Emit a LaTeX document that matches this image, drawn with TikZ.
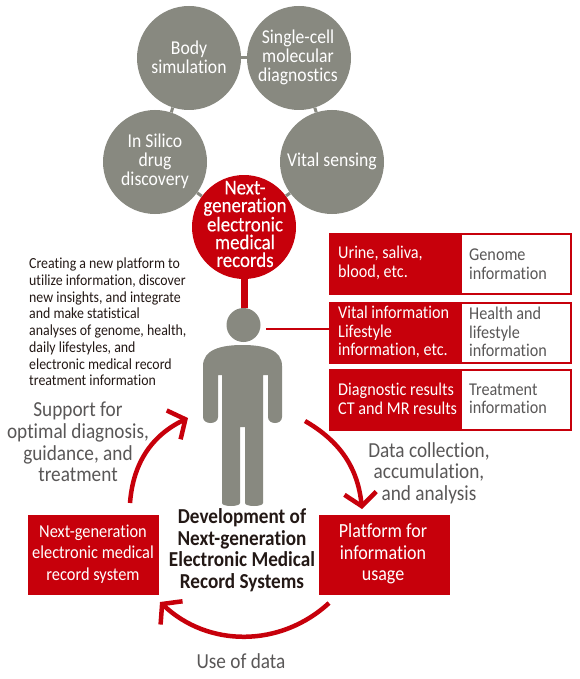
\documentclass[tikz,border=0pt]{standalone}
\usepackage{fontspec}
\setmainfont[FakeStretch=0.9, Ligatures=NoCommon]{Carlito}
\usetikzlibrary{arrows.meta}
\definecolor{fjred}{HTML}{C7000B}
\definecolor{fjgray}{HTML}{888980}
\definecolor{fjtext}{HTML}{595757}
\definecolor{fjdark}{HTML}{231815}
\tikzset{
  topic/.style={circle, fill=fjgray, minimum size=104pt, inner sep=0pt},
  core/.style={circle, fill=fjred, minimum size=104pt, inner sep=0pt},
  topiclabel/.style={text=white, align=center, font=\fontsize{19.6}{19}\selectfont},
  corelabel/.style={text=white, align=center, font=\addfontfeature{FakeBold=0.25}\fontsize{21}{17.8}\selectfont},
  infoframe/.style={fill=fjred, minimum width=243pt, minimum height=62pt, inner sep=0pt},
  infowhite/.style={fill=white, minimum width=108pt, minimum height=58pt, inner sep=0pt},
  infosrc/.style={text=white, anchor=west, align=left, inner sep=0pt, font=\fontsize{18}{18.5}\selectfont},
  infokind/.style={text=fjtext, anchor=west, align=left, inner sep=0pt, font=\fontsize{18}{18.5}\selectfont},
  stagebox/.style={fill=fjred, minimum width=131pt, minimum height=80pt, inner sep=0pt},
  stagelabel/.style={text=white, align=center, font=\fontsize{18.2}{21.7}\selectfont},
  cyclelabel/.style={text=fjtext, align=center, font=\fontsize{21.4}{21.6}\selectfont},
  cycle/.style={draw=fjred, line width=4.5pt, -{Straight Barb[length=13pt, width=32pt, line width=4.5pt]}},
  link/.style={fjgray, line width=3pt},
}
\begin{document}
\begin{tikzpicture}[x=1pt, y=-1pt]
\useasboundingbox (0,0) rectangle (580,679);

% Circles
\node[topic] (body) at (189,58) {};
\node[topic] (cell) at (299,58) {};
\node[topic] (silico) at (155,162) {};
\node[topic] (vital) at (332,162) {};
\node[core] (records) at (244,227) {};

% Links between circles
\draw[link] (body) -- (cell);
\draw[link] (body) -- (silico);
\draw[link] (cell) -- (vital);
\draw[link] (silico) -- (records);
\draw[link] (vital) -- (records);

% Circle labels
\node[topiclabel] (bodytext) at (189,57) {Body\\simulation};
\node[topiclabel] (celltext) at (298,57) {Single-cell\\molecular\\diagnostics};
\node[topiclabel] (silicotext) at (155,161) {In Silico\\drug\\discovery};
\node[topiclabel] (vitaltext) at (332,161) {Vital sensing};
\node[corelabel] (recordstext) at (245,224) {Next-\\generation\\electronic\\medical\\records};

% Person
\node[circle, fill=fjgray, minimum size=34pt, inner sep=0pt] (head) at (243.5,325) {};
\fill[fjgray] (203,417) -- (203,366) .. controls (203,350) and (220,345) .. (242.5,345)
  .. controls (265,345) and (282,350) .. (282,366) -- (282,417)
  .. controls (282,425) and (268,425) .. (268,417) -- (268,375) -- (263,375) -- (263,503)
  .. controls (263,507) and (245,507) .. (245,503) -- (245,427) -- (240,427) -- (240,503)
  .. controls (240,507) and (222,507) .. (222,503) -- (222,375) -- (218,375) -- (218,417)
  .. controls (218,425) and (203,425) .. (203,417) -- cycle;

% Links to person
\draw[fjred, line width=7pt] (records.south) -- (records.south |- head.north);
\coordinate (headtap) at (266,329);

% Info rows
\node[infoframe] (urine) at (450.5,264) {};
\node[infowhite] (genome) at (516,264) {};
\node[infosrc] (urinetext) at (338,263) {Urine, saliva,\\blood, etc.};
\node[infokind] (genometext) at (469,264) {Genome\\information};

\node[infoframe] (vitalinfo) at (450.5,332.5) {};
\node[infowhite] (health) at (516,332.5) {};
\node[infosrc] (vitalinfotext) at (338,332) {Vital information\\Lifestyle\\information, etc.};
\node[infokind] (healthtext) at (469,332) {Health and\\lifestyle\\information};

\node[infoframe] (diagnostic) at (450.5,400) {};
\node[infowhite] (treatment) at (516,400) {};
\node[infosrc] (diagnostictext) at (338,399) {Diagnostic results\\CT and MR results};
\node[infokind] (treatmenttext) at (469,399) {Treatment\\information};

\draw[fjred, line width=2.5pt] (headtap) -- (vitalinfo.west |- headtap);

% Left description
\node[anchor=west, align=left, inner sep=0pt, text=fjdark, font=\fontsize{15.4}{16.7}\selectfont] (about) at (29,322)
  {Creating a new platform to\\utilize information, discover\\new insights, and integrate\\and make statistical\\analyses of genome, health,\\daily lifestyles, and\\electronic medical record\\treatment information};

% Cycle boxes
\node[stagebox] (system) at (93.5,555) {};
\node[stagebox] (platform) at (384.5,555) {};
\node[stagelabel] (systemtext) at (93,554) {Next-generation\\electronic medical\\record system};
\node[stagelabel, font=\fontsize{20}{21.7}\selectfont] (platformtext) at (383,554) {Platform for\\information\\usage};
\node[align=center, text=fjdark, font=\bfseries\fontsize{21.3}{21.6}\selectfont] (title) at (242,550)
  {Development of\\Next-generation\\Electronic Medical\\Record Systems};

% Cycle arrows
\coordinate (collectfrom) at (305,421);
\coordinate (collectto) at (362,509);
\coordinate (usefrom) at (329,603);
\coordinate (useto) at (160,602);
\coordinate (supportfrom) at (130,503);
\coordinate (supportto) at (188,418);
\draw[cycle] (collectfrom) to[bend left=27] (collectto);
\draw[cycle] (usefrom) to[bend left=43] (useto);
\draw[cycle] (supportfrom) to[bend left=30] (supportto);

% Cycle labels
\node[cyclelabel] (supporttext) at (78,442) {Support for\\optimal diagnosis,\\guidance, and\\treatment};
\node[cyclelabel] (collecttext) at (429,473) {Data collection,\\accumulation,\\and analysis};
\node[cyclelabel] (usetext) at (241,661) {Use of data};

\end{tikzpicture}
\end{document}
